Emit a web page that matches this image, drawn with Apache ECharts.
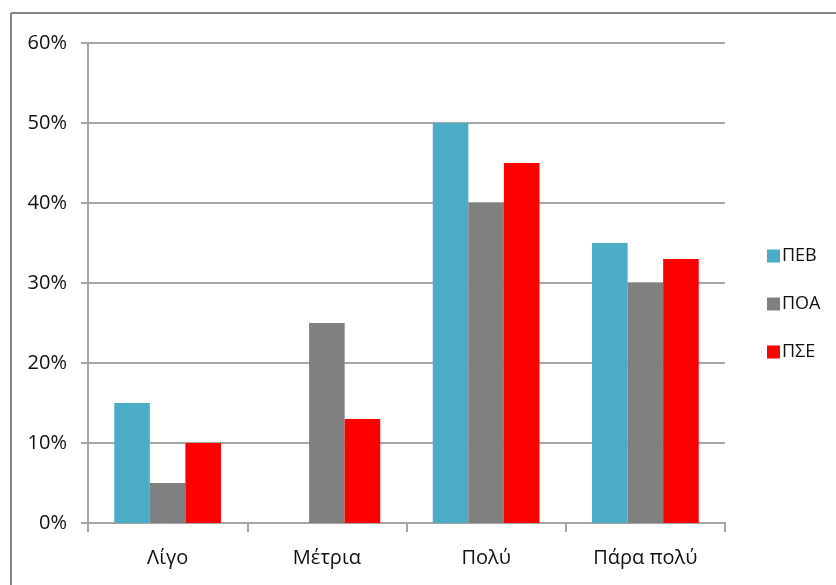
<!DOCTYPE html>
<html>
<head>
<meta charset="utf-8">
<script src="https://cdn.jsdelivr.net/npm/echarts@6/dist/echarts.min.js"></script>
<style>
  html, body { margin: 0; padding: 0; background: #fff; }
  #chart { width: 836px; height: 585px; }
</style>
</head>
<body>
<div id="chart"></div>
<script>
const categories = ["Λίγο", "Μέτρια", "Πολύ", "Πάρα πολύ"];
const seriesNames = ["ΠΕΒ", "ΠΟΑ", "ΠΣΕ"];
const pevValues = [15, 0, 50, 35];
const poaValues = [5, 25, 40, 30];
const pseValues = [10, 13, 45, 33];
const seriesColors = ["#4BACC6", "#808080", "#FF0000"];

const chart = echarts.init(document.getElementById("chart"));
const font = "'Open Sans', 'Noto Sans', sans-serif";

function barSeries(name, data, color) {
  return {
    name: name,
    type: "bar",
    data: data,
    barGap: "0%",
    barCategoryGap: "33%",
    itemStyle: { color: color },
  };
}

chart.setOption({
  animation: false,
  backgroundColor: "#fff",
  textStyle: { fontFamily: font },
  graphic: [
    { type: "line", shape: { x1: 11, y1: 13, x2: 836, y2: 13 }, style: { stroke: "#868686", lineWidth: 2 } },
    { type: "line", shape: { x1: 11, y1: 13, x2: 11, y2: 585 }, style: { stroke: "#868686", lineWidth: 2 } },
  ],
  legend: {
    orient: "vertical",
    left: 762,
    top: 242,
    itemGap: 30,
    itemWidth: 13,
    itemHeight: 13,
    icon: "rect",
    textStyle: { fontSize: 18, color: "#111", fontFamily: font, padding: [0, 0, 0, -3] },
    data: seriesNames,
  },
  grid: { left: 88, right: 111, top: 43, bottom: 62 },
  xAxis: {
    type: "category",
    data: categories,
    axisLine: { lineStyle: { color: "#a6a6a6", width: 2 } },
    axisTick: { show: true, length: 9, alignWithLabel: false, lineStyle: { color: "#a6a6a6", width: 2 } },
    axisLabel: { fontSize: 20, color: "#111", margin: 25 },
  },
  yAxis: {
    type: "value",
    min: 0,
    max: 60,
    interval: 10,
    axisLine: { show: true, lineStyle: { color: "#a6a6a6", width: 2 } },
    axisTick: { show: true, length: 7, lineStyle: { color: "#a6a6a6", width: 2 } },
    splitLine: { lineStyle: { color: "#a6a6a6", width: 2 } },
    axisLabel: { fontSize: 20, color: "#111", margin: 21, formatter: "{value}%" },
  },
  series: [
    barSeries(seriesNames[0], pevValues, seriesColors[0]),
    barSeries(seriesNames[1], poaValues, seriesColors[1]),
    barSeries(seriesNames[2], pseValues, seriesColors[2]),
  ],
});
</script>
</body>
</html>
